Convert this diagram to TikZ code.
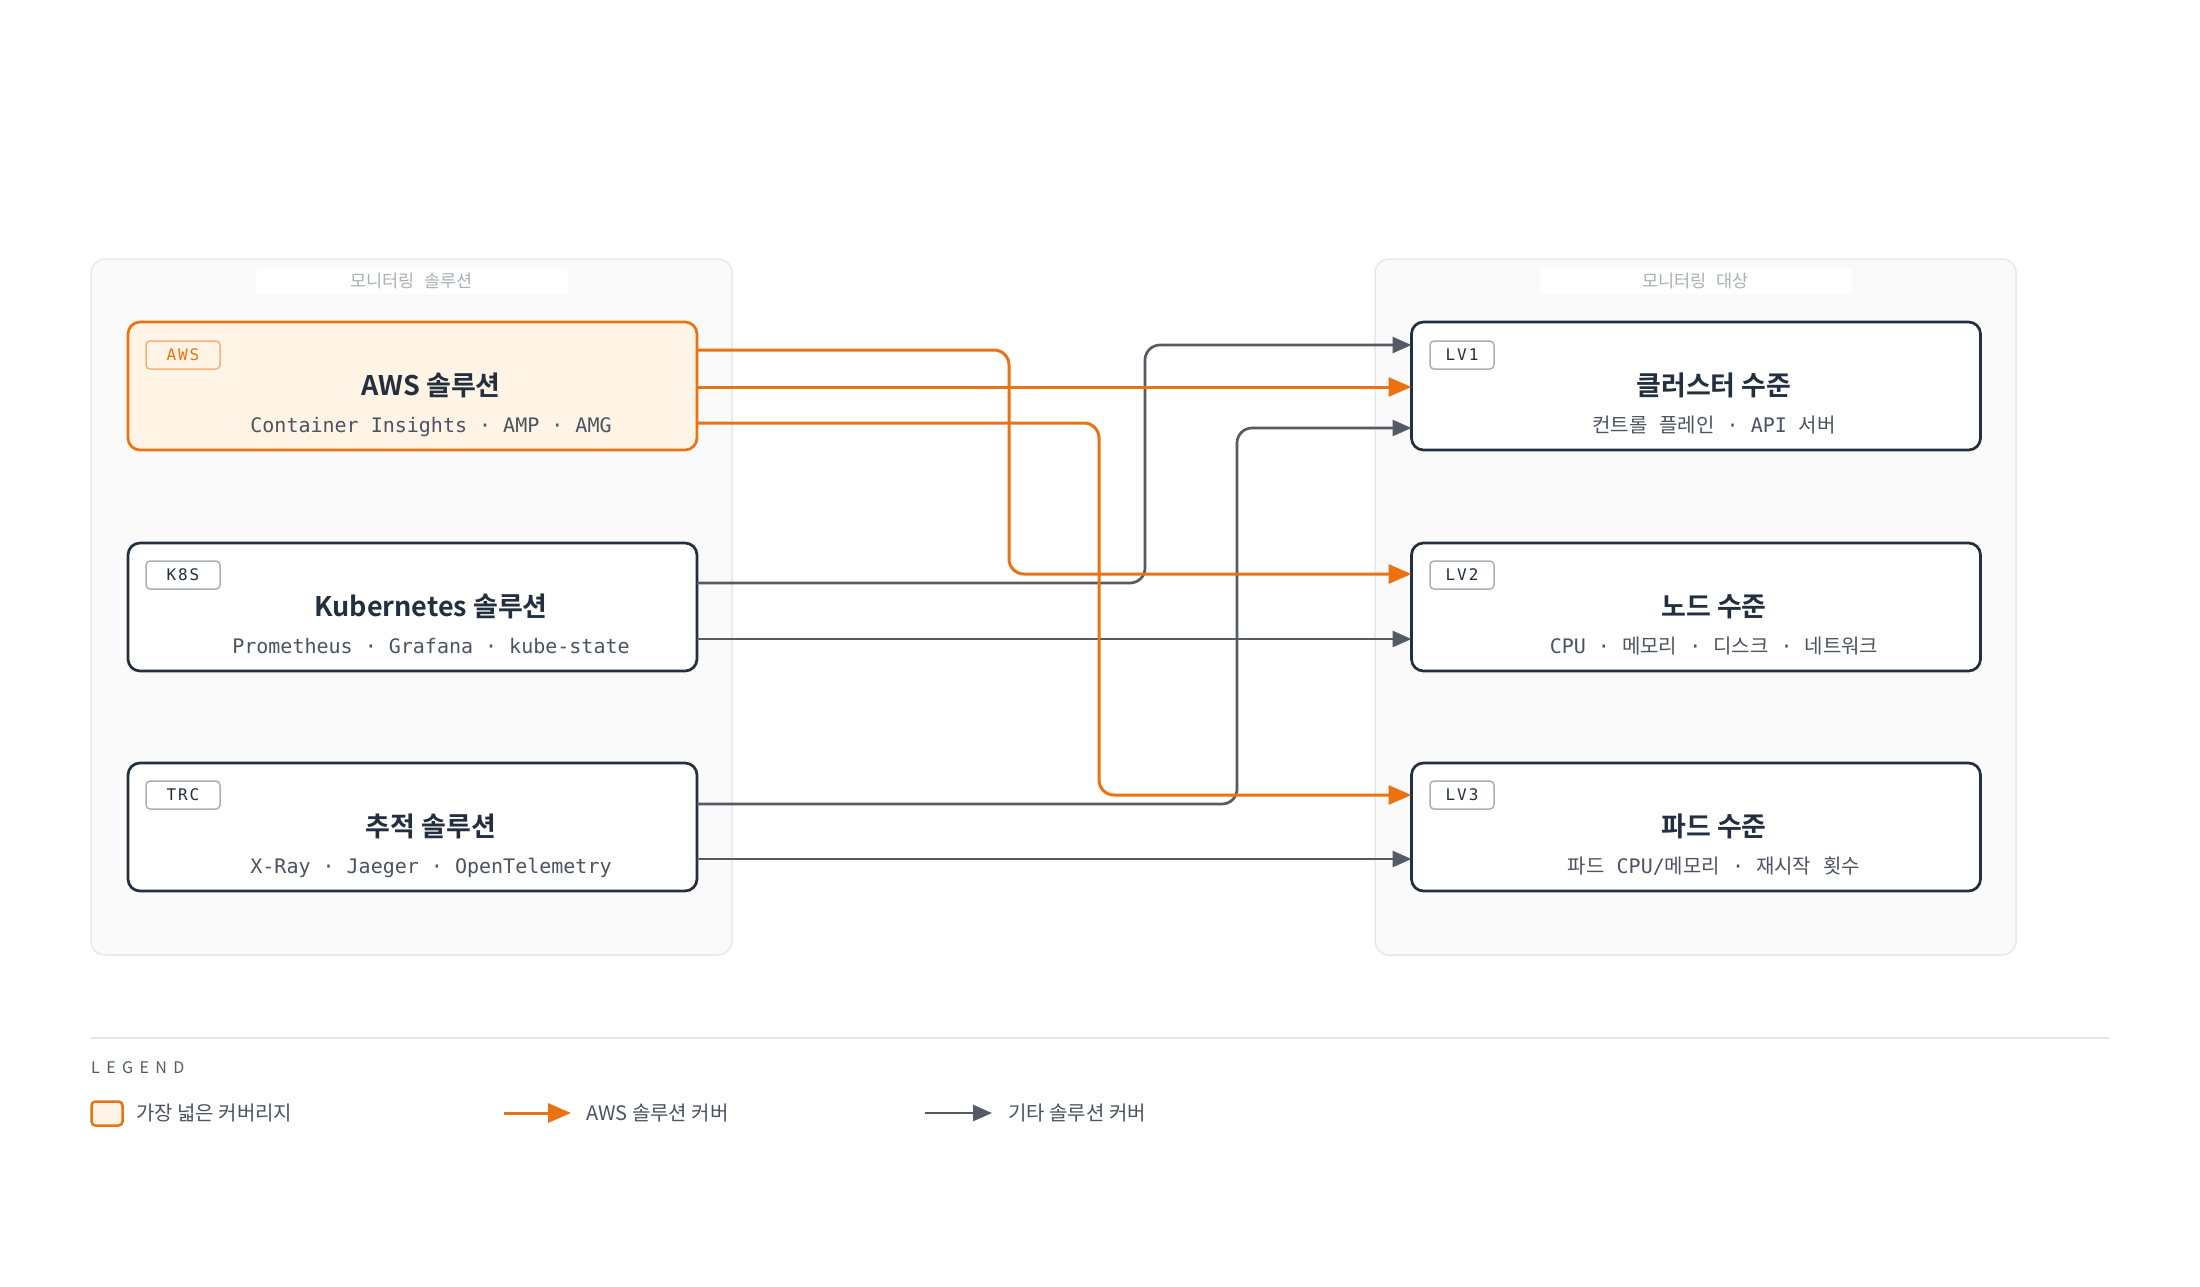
\documentclass[tikz,border=0pt]{standalone}
\usepackage{fontspec}
\usetikzlibrary{arrows.meta,calc}
\newfontfamily\kr{Noto Sans CJK KR}
\newfontfamily\krb{Noto Sans CJK KR Bold}
\newfontfamily\mono{DejaVu Sans Mono}
\newfontfamily\tagmono{DejaVu Sans Mono}[LetterSpace=12]
\newfontfamily\legfont{Noto Sans CJK KR}[LetterSpace=40]
\newcommand\krt[1]{{\kr #1}}
\definecolor{awsorange}{HTML}{EC7211}
\definecolor{awsfill}{HTML}{FFF4E5}
\definecolor{awstagline}{HTML}{F6B27A}
\definecolor{navy}{HTML}{232F3E}
\definecolor{slate}{HTML}{545B64}
\definecolor{tagline}{HTML}{AAB0B7}
\definecolor{panelfill}{HTML}{FAFAFA}
\definecolor{panelline}{HTML}{E8E8E8}
\definecolor{paneltext}{HTML}{AAB0B7}
\definecolor{subtext}{HTML}{4B5360}
\tikzset{
  panel/.style={draw=panelline, line width=1.5pt, fill=panelfill, rounded corners=14pt,
    minimum width=641pt, minimum height=696pt, inner sep=0pt, outer sep=0pt},
  paneltitle/.style={fill=white, rounded corners=4pt, minimum width=312pt, minimum height=26pt,
    inner sep=0pt, text=paneltext, font=\kr\fontsize{17.5}{17.5}\selectfont},
  box/.style={draw=navy, line width=2.7pt, fill=white, rounded corners=12pt,
    minimum width=569pt, minimum height=128pt, inner sep=0pt, outer sep=0pt},
  awsbox/.style={box, draw=awsorange, fill=awsfill},
  tagbox/.style={draw=tagline, line width=1.5pt, fill=white, rounded corners=4pt,
    minimum height=28pt, inner sep=0pt, text=navy, font=\tagmono\fontsize{16}{16}\selectfont},
  awstag/.style={tagbox, draw=awstagline, fill=awsfill, text=awsorange},
  titletext/.style={text=navy, font=\krb\fontsize{27}{27}\selectfont, inner sep=0pt, anchor=base},
  subtitletext/.style={text=subtext, font=\mono\fontsize{20}{20}\selectfont, inner sep=0pt, anchor=base},
  orangeline/.style={draw=awsorange, line width=3pt, rounded corners=15pt,
    -{Triangle[length=23pt,width=19pt]}},
  grayline/.style={draw=slate, line width=2.7pt, rounded corners=15pt,
    -{Triangle[length=19pt,width=16pt]}},
  legtext/.style={text=subtext, font=\kr\fontsize{20}{20}\selectfont, inner sep=0pt, anchor=west},
}
\begin{document}
\begin{tikzpicture}[x=1pt,y=-1pt]
\useasboundingbox (0,0) rectangle (2200,1286);
\fill[white] (0,0) rectangle (2200,1286);

% panels
\node[panel] (lpanel) at (411.5,607) {};
\node[panel] (rpanel) at (1695.5,607) {};
\node[paneltitle] (lpt) at (411.5,281) {모니터링\hspace{6pt} 솔루션};
\node[paneltitle] (rpt) at (1695.5,281) {모니터링\hspace{6pt} 대상};

% left boxes
\node[awsbox] (aws) at (412.5,386) {};
\node[box] (k8s) at (412.5,607) {};
\node[box] (trc) at (412.5,827) {};
% right boxes
\node[box] (lv1) at (1696,386) {};
\node[box] (lv2) at (1696,607) {};
\node[box] (lv3) at (1696,827) {};

% tags
\node[awstag, minimum width=74pt] (awstag) at (183,355) {AWS};
\node[tagbox, minimum width=74pt] (k8stag) at (183,575) {K8S};
\node[tagbox, minimum width=74pt] (trctag) at (183,795) {TRC};
\node[tagbox, minimum width=64pt] (lv1tag) at (1462,355) {LV1};
\node[tagbox, minimum width=64pt] (lv2tag) at (1462,575) {LV2};
\node[tagbox, minimum width=64pt] (lv3tag) at (1462,795) {LV3};

% titles
\node[titletext] (awst) at (431,395) {AWS 솔루션};
\node[subtitletext] (awss) at (431,432) {Container Insights · AMP · AMG};
\node[titletext] (k8st) at (431,616) {Kubernetes 솔루션};
\node[subtitletext] (k8ss) at (431,653) {Prometheus · Grafana · kube-state};
\node[titletext] (trct) at (431,836) {추적 솔루션};
\node[subtitletext] (trcs) at (431,873) {X-Ray · Jaeger · OpenTelemetry};

\node[titletext] (lv1t) at (1714,395) {클러스터 수준};
\node[subtitletext] (lv1s) at (1714,432) {\krt{컨트롤} \krt{플레인} · API \krt{서버}};
\node[titletext] (lv2t) at (1714,616) {노드 수준};
\node[subtitletext] (lv2s) at (1714,653) {CPU · \krt{메모리} · \krt{디스크} · \krt{네트워크}};
\node[titletext] (lv3t) at (1714,836) {파드 수준};
\node[subtitletext] (lv3s) at (1714,873) {\krt{파드} CPU/\krt{메모리} · \krt{재시작} \krt{횟수}};

% ports
\coordinate (a1) at ($(aws.north east)+(0,28)$);
\coordinate (a2) at ($(aws.north east)+(0,65)$);
\coordinate (a3) at ($(aws.north east)+(0,101)$);
\coordinate (k1) at ($(k8s.north east)+(0,40)$);
\coordinate (k2) at ($(k8s.north east)+(0,96)$);
\coordinate (t1) at ($(trc.north east)+(0,41)$);
\coordinate (t2) at ($(trc.north east)+(0,96)$);
\coordinate (l1a) at ($(lv1.north west)+(0,23)$);
\coordinate (l1b) at ($(lv1.north west)+(0,65)$);
\coordinate (l1c) at ($(lv1.north west)+(0,106)$);
\coordinate (l2a) at ($(lv2.north west)+(0,31)$);
\coordinate (l2b) at ($(lv2.north west)+(0,96)$);
\coordinate (l3a) at ($(lv3.north west)+(0,32)$);
\coordinate (l3b) at ($(lv3.north west)+(0,96)$);

% gray connectors
\draw[grayline] (k1) -| (l1a -| 1145,0) -- (l1a);
\draw[grayline] (t1) -| (l1c -| 1237,0) -- (l1c);
\draw[grayline] (k2) -- (l2b);
\draw[grayline] (t2) -- (l3b);
% orange connectors
\draw[orangeline] (a1) -| (l2a -| 1009,0) -- (l2a);
\draw[orangeline] (a2) -- (l1b);
\draw[orangeline] (a3) -| (l3a -| 1099,0) -- (l3a);

% legend
\coordinate (sepL) at (91,1038);
\coordinate (sepR) at (2109,1038);
\draw[panelline, line width=2pt] (sepL) -- (sepR);
\node[text=slate, font=\legfont\fontsize{16}{16}\selectfont, inner sep=0pt, anchor=west] (legend) at (91,1068) {LEGEND};
\node[draw=awsorange, fill=awsfill, line width=2.5pt, rounded corners=4pt,
  minimum width=31pt, minimum height=24pt, inner sep=0pt] (legbox) at (107,1113.5) {};
\node[legtext] (legboxt) at (136,1113) {가장 넓은 커버리지};
\coordinate (loa) at (504,1113);
\coordinate (lob) at (571,1113);
\draw[orangeline] (loa) -- (lob);
\node[legtext] (legot) at (586,1113) {AWS 솔루션 커버};
\coordinate (lga) at (925,1113);
\coordinate (lgb) at (992,1113);
\draw[grayline] (lga) -- (lgb);
\node[legtext] (leggt) at (1008,1113) {기타 솔루션 커버};
\end{tikzpicture}
\end{document}
